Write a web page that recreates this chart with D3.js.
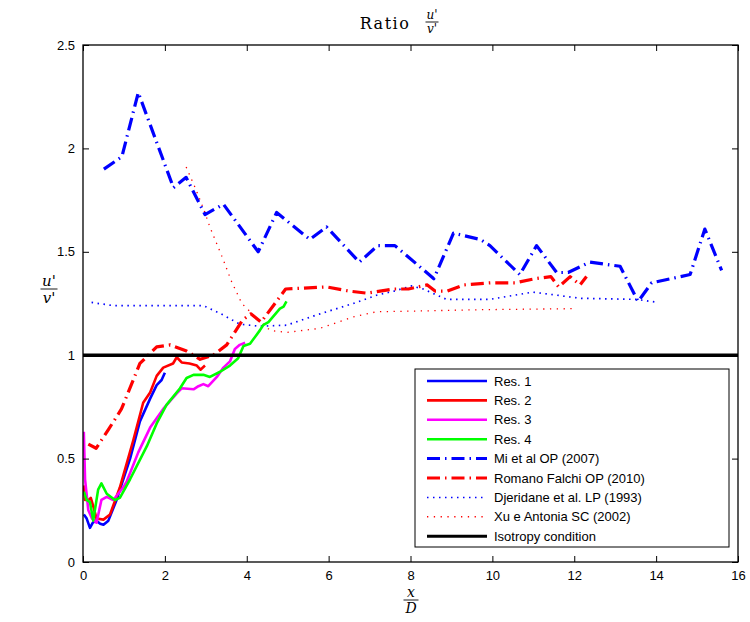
<!DOCTYPE html>
<html>
<head>
<meta charset="utf-8">
<script src="https://cdn.jsdelivr.net/npm/d3@7"></script>
<style>
body { margin: 0; background: #fff; }
.tick text { font-family: "Liberation Sans", Arial, sans-serif; font-size: 13px; fill: #000; }
.legend text { font-family: "Liberation Sans", Arial, sans-serif; font-size: 13px; }
.math { font-family: "DejaVu Serif", "Liberation Serif", serif; }
</style>
</head>
<body>
<div id="chart"></div>
<script>
// data: [x/D, u'/v']
var res1 = [[0.02,0.23],[0.09,0.21],[0.17,0.165],[0.24,0.19],[0.32,0.2],[0.42,0.185],[0.5,0.18],[0.62,0.2],[0.82,0.3],[1.15,0.5],[1.39,0.68],[1.64,0.79],[1.8,0.855],[1.92,0.88],[2.0,0.915]];
var res2 = [[0.02,0.37],[0.05,0.3],[0.13,0.3],[0.19,0.31],[0.25,0.27],[0.33,0.21],[0.5,0.205],[0.66,0.23],[0.9,0.36],[1.23,0.59],[1.47,0.77],[1.64,0.82],[1.8,0.9],[1.96,0.94],[2.2,0.96],[2.29,0.99],[2.41,0.965],[2.6,0.96],[2.78,0.95],[2.87,0.93],[2.98,0.95]];
var res3 = [[0.02,0.63],[0.05,0.4],[0.13,0.25],[0.22,0.21],[0.33,0.19],[0.45,0.3],[0.58,0.315],[0.74,0.3],[0.98,0.36],[1.07,0.39],[1.35,0.53],[1.64,0.65],[1.96,0.74],[2.29,0.815],[2.41,0.84],[2.7,0.835],[2.82,0.85],[2.94,0.86],[3.06,0.85],[3.27,0.895],[3.43,0.94],[3.59,0.97],[3.71,1.03],[3.83,1.05],[3.96,1.06]];
var res4 = [[0.02,0.34],[0.09,0.3],[0.17,0.29],[0.25,0.2],[0.37,0.35],[0.45,0.38],[0.58,0.33],[0.78,0.3],[0.9,0.31],[1.15,0.4],[1.56,0.56],[1.8,0.67],[2.04,0.76],[2.37,0.84],[2.53,0.89],[2.7,0.905],[2.94,0.905],[3.1,0.895],[3.35,0.92],[3.59,0.95],[3.79,0.985],[3.92,1.045],[4.08,1.055],[4.32,1.12],[4.4,1.145],[4.53,1.16],[4.81,1.225],[4.9,1.235],[4.97,1.26]];
var miEtAl = [[0.51,1.9],[0.95,1.96],[1.35,2.27],[2.21,1.81],[2.52,1.86],[2.98,1.68],[3.43,1.73],[4.28,1.5],[4.73,1.69],[5.54,1.56],[5.95,1.62],[6.75,1.45],[7.2,1.53],[7.62,1.53],[8.57,1.37],[9.05,1.59],[9.7,1.56],[9.94,1.53],[10.67,1.39],[11.08,1.53],[11.57,1.4],[11.85,1.4],[12.38,1.45],[13.12,1.43],[13.56,1.26],[13.89,1.35],[14.83,1.39],[15.19,1.61],[15.6,1.41]];
var romanoFalchi = [[0.13,0.57],[0.32,0.55],[0.62,0.64],[0.94,0.74],[1.39,0.96],[1.8,1.04],[2.13,1.05],[2.53,1.02],[2.86,0.98],[3.18,1.0],[3.51,1.05],[3.9,1.17],[4.1,1.2],[4.35,1.16],[4.95,1.32],[5.95,1.33],[6.5,1.31],[6.93,1.3],[7.58,1.32],[7.95,1.32],[8.41,1.34],[8.6,1.31],[8.9,1.31],[9.3,1.34],[9.96,1.35],[10.55,1.35],[11.04,1.37],[11.43,1.38],[11.62,1.33],[11.9,1.38],[12.14,1.34],[12.3,1.38]];
var djeridane = [[0.21,1.255],[0.73,1.24],[1.88,1.24],[2.94,1.24],[3.37,1.2],[3.83,1.15],[4.32,1.14],[4.97,1.145],[5.79,1.2],[6.6,1.25],[7.17,1.29],[7.6,1.31],[8.03,1.335],[8.31,1.32],[8.88,1.27],[9.94,1.27],[10.98,1.305],[12.17,1.275],[13.52,1.27],[14.05,1.255]];
var xuAntonia = [[2.52,1.91],[2.74,1.81],[2.94,1.71],[3.1,1.62],[3.43,1.46],[3.62,1.36],[3.88,1.25],[4.24,1.18],[4.57,1.12],[4.97,1.11],[5.79,1.13],[6.6,1.185],[7.17,1.21],[8.5,1.215],[9.7,1.22],[12.0,1.225]];
var isotropy = [[0,1],[16,1]];

var seriesNames = ["Res. 1","Res. 2","Res. 3","Res. 4","Mi et al OP (2007)","Romano Falchi OP (2010)","Djeridane et al. LP (1993)","Xu e Antonia SC (2002)","Isotropy condition"];
var seriesData = [res1,res2,res3,res4,miEtAl,romanoFalchi,djeridane,xuAntonia,isotropy];
var seriesColors = ["#0000ff","#ff0000","#ff00ff","#00ff00","#0000ff","#ff0000","#0000ff","#ff0000","#000000"];
var seriesWidths = [2.6,2.6,2.6,2.6,3.2,3.2,1.7,1.3,3.5];
var seriesDash = [null,null,null,null,"13,5,1.5,5","13,5,1.5,5","1.5,4.5","1.3,5.5",null];

var xTicks = [0,2,4,6,8,10,12,14,16];
var yTicks = [0,0.5,1,1.5,2,2.5];

var margin = {top: 45, right: 12, bottom: 60, left: 83},
    width = 750 - margin.left - margin.right,
    height = 622 - margin.top - margin.bottom;

var x = d3.scaleLinear().domain([0,16]).range([0,width]);
var y = d3.scaleLinear().domain([0,2.5]).range([height,0]);

var svg = d3.select("#chart").append("svg")
  .attr("width", 750).attr("height", 622);
var g = svg.append("g").attr("transform","translate("+margin.left+","+margin.top+")");

var line = d3.line().x(function(d){return x(d[0]);}).y(function(d){return y(d[1]);});

// clip region
g.append("clipPath").attr("id","clip").append("rect").attr("width",width).attr("height",height);

// draw series, back to front
var order = [6,7,4,5,0,1,2,3,8];
order.forEach(function(i){
  g.append("path")
    .attr("clip-path","url(#clip)")
    .attr("d", line(seriesData[i]))
    .attr("fill","none")
    .attr("stroke", seriesColors[i])
    .attr("stroke-width", seriesWidths[i])
    .attr("stroke-dasharray", seriesDash[i])
    .attr("stroke-linejoin","round");
});

// axes with inward ticks, mirrored on top/right
var fmt = function(d){ return d3.format("")(d); };
g.append("g").attr("transform","translate(0,"+height+")")
  .call(d3.axisBottom(x).tickValues(xTicks).tickSizeInner(-6).tickSizeOuter(0).tickPadding(9).tickFormat(fmt));
g.append("g")
  .call(d3.axisTop(x).tickValues(xTicks).tickSizeInner(-6).tickSizeOuter(0).tickFormat(""));
g.append("g")
  .call(d3.axisLeft(y).tickValues(yTicks).tickSizeInner(-6).tickSizeOuter(0).tickPadding(8).tickFormat(fmt));
g.append("g").attr("transform","translate("+width+",0)")
  .call(d3.axisRight(y).tickValues(yTicks).tickSizeInner(-6).tickSizeOuter(0).tickFormat(""));
g.selectAll(".domain").remove();
g.selectAll(".tick line").attr("stroke","#000");
g.append("rect").attr("width",width).attr("height",height)
  .attr("fill","none").attr("stroke","#000").attr("stroke-width",1.3);

// legend
var lg = svg.append("g").attr("class","legend").attr("transform","translate(415,369)");
lg.append("rect").attr("width",314).attr("height",178).attr("fill","#fff").attr("stroke","#000").attr("stroke-width",1);
seriesNames.forEach(function(name,i){
  var yy = 12 + i*19.4;
  lg.append("line").attr("x1",12).attr("x2",72).attr("y1",yy).attr("y2",yy)
    .attr("stroke",seriesColors[i]).attr("stroke-width", i===8 ? 3 : (i<4 ? 2.6 : (i<6 ? 3 : 1.5)))
    .attr("stroke-dasharray", seriesDash[i]);
  lg.append("text").attr("x",79).attr("y",yy+4.5).text(name);
});

// fraction helper
function frac(parent, cx, cy, top, bot, size, w){
  var f = parent.append("g").attr("class","math");
  f.append("text").attr("x",cx).attr("y",cy-3).attr("text-anchor","middle")
    .attr("font-style","italic").attr("font-size",size).text(top);
  f.append("line").attr("x1",cx-w/2).attr("x2",cx+w/2).attr("y1",cy).attr("y2",cy)
    .attr("stroke","#000").attr("stroke-width",0.9);
  f.append("text").attr("x",cx).attr("y",cy+size*0.95).attr("text-anchor","middle")
    .attr("font-style","italic").attr("font-size",size).text(bot);
}

// title
svg.append("text").attr("class","math").attr("x",385).attr("y",29).attr("text-anchor","middle")
  .attr("font-size",16).attr("letter-spacing",1.5).text("Ratio");
frac(svg, 432, 22, "u'", "v'", 12, 13);

// axis labels
frac(svg, 49, 289, "u'", "v'", 15, 17);
frac(svg, 411, 600, "x", "D", 14, 15);
</script>
</body>
</html>
